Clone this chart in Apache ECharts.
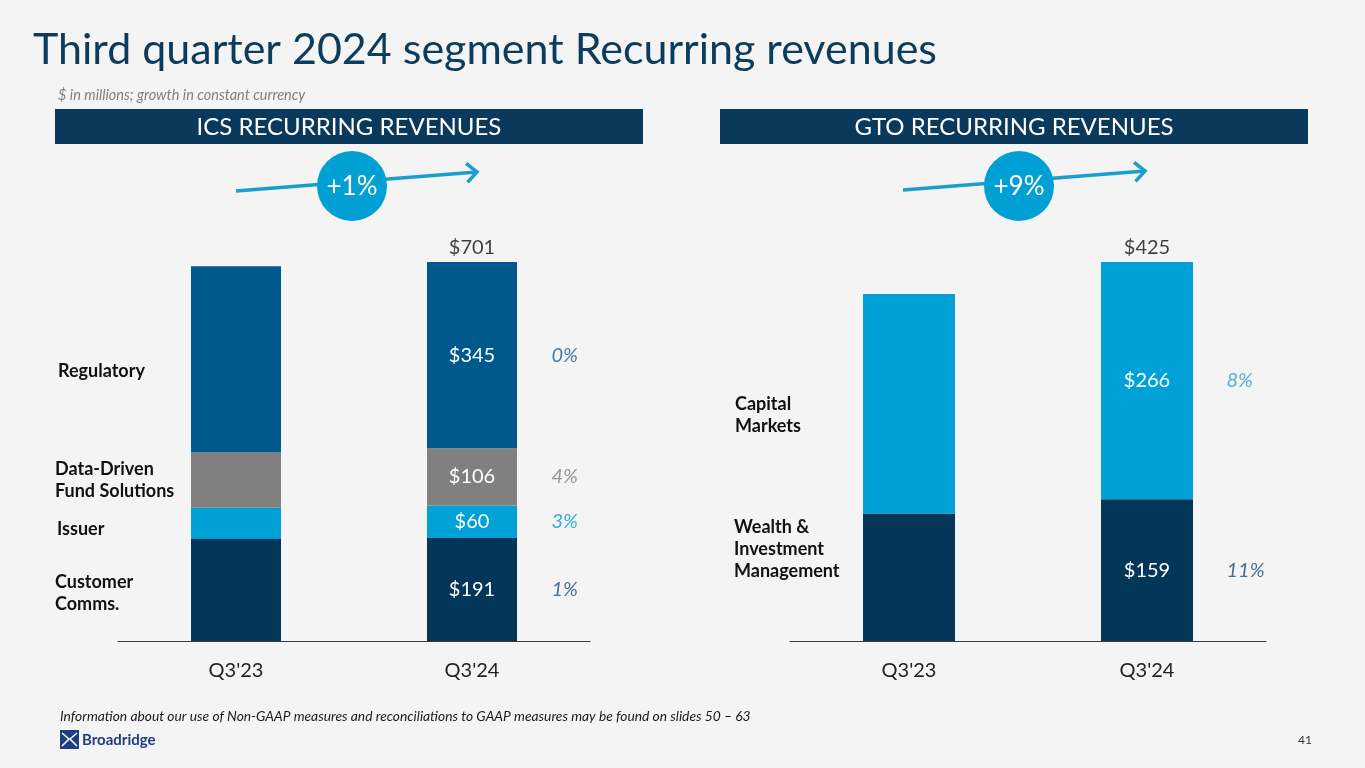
<!DOCTYPE html>
<html>
<head>
<meta charset="utf-8">
<script src="https://cdn.jsdelivr.net/npm/echarts@6.0.0/dist/echarts.min.js"></script>
<style>
  html, body { margin: 0; padding: 0; background: #f4f4f4; }
  #main { width: 1365px; height: 768px; }
</style>
</head>
<body>
<div id="main"></div>
<script>
// data ($ in millions)
const quarters = ["Q3'23", "Q3'24"];

const icsNames = ['Customer Comms.', 'Issuer', 'Data-Driven Fund Solutions', 'Regulatory'];
const icsCustomerComms = [189, 191];
const icsIssuer = [58, 60];
const icsDataDriven = [102, 106];
const icsRegulatory = [345, 345];
const icsGrowth = ['1%', '3%', '4%', '0%'];
const icsTotals = [694, 701];
const icsTotalGrowth = '+1%';

const gtoNames = ['Wealth & Investment Management', 'Capital Markets'];
const gtoWealth = [143, 159];
const gtoCapital = [246, 266];
const gtoGrowth = ['11%', '8%'];
const gtoTotals = [389, 425];
const gtoTotalGrowth = '+9%';

const FONT = 'Lato, "Open Sans", sans-serif';
const NAVY = '#033659';

var chart = echarts.init(document.getElementById('main'));

const icsStacks = [icsCustomerComms, icsIssuer, icsDataDriven, icsRegulatory];
const gtoStacks = [gtoWealth, gtoCapital];

function stackMax(stacks) {
  let m = 0;
  for (let i = 0; i < stacks[0].length; i++) {
    m = Math.max(m, stacks.reduce((a, s) => a + s[i], 0));
  }
  return m;
}

// middle of every segment for one column
function segMids(stacks, idx) {
  let acc = 0;
  return stacks.map(s => {
    const mid = acc + s[idx] / 2;
    acc += s[idx];
    return mid;
  });
}

function barSeries(name, data, color, axis, width) {
  return {
    type: 'bar',
    name: name,
    stack: 'st' + axis,
    xAxisIndex: axis,
    yAxisIndex: axis,
    barWidth: width,
    data: data,
    itemStyle: { color: color },
    label: {
      show: true,
      position: 'inside',
      color: '#fff',
      fontFamily: FONT,
      fontSize: 20,
      formatter: p => p.dataIndex === quarters.length - 1 ? '$' + p.value : ''
    },
    emphasis: { disabled: true },
    silent: true
  };
}

function growthSeries(stacks, growth, colors, axis) {
  const last = quarters.length - 1;
  const mids = segMids(stacks, last);
  return {
    type: 'scatter',
    xAxisIndex: axis,
    yAxisIndex: axis,
    symbolSize: 1,
    itemStyle: { color: 'transparent' },
    silent: true,
    data: mids.map((m, i) => ({
      value: [quarters[last], m],
      label: { formatter: growth[i], color: colors[i] }
    })),
    label: {
      show: true,
      position: 'right',
      distance: 79,
      fontFamily: FONT,
      fontStyle: 'italic',
      fontSize: 20
    }
  };
}

function totalSeries(stacks, totals, axis) {
  const last = quarters.length - 1;
  return {
    type: 'scatter',
    xAxisIndex: axis,
    yAxisIndex: axis,
    symbolSize: 1,
    itemStyle: { color: 'transparent' },
    silent: true,
    data: [[quarters[last], stackMax(stacks)]],
    label: {
      show: true,
      position: 'top',
      distance: 4,
      color: '#111',
      fontFamily: FONT,
      fontSize: 20,
      formatter: '$' + totals[last]
    }
  };
}

function arrow(x1, y1, x2, y2) {
  const ang = Math.atan2(y2 - y1, x2 - x1);
  const len = 14, spread = 0.75;
  return [
    { type: 'line', shape: { x1: x1, y1: y1, x2: x2, y2: y2 },
      style: { stroke: '#1C9DD0', lineWidth: 3.5 } },
    { type: 'polyline',
      shape: { points: [
        [x2 - len * Math.cos(ang - spread), y2 - len * Math.sin(ang - spread)],
        [x2, y2],
        [x2 - len * Math.cos(ang + spread), y2 - len * Math.sin(ang + spread)]
      ] },
      style: { stroke: '#1C9DD0', lineWidth: 3.5, fill: null } }
  ];
}

function header(x, text) {
  return [
    { type: 'rect', shape: { x: x, y: 109, width: 588, height: 35 }, style: { fill: '#0A395C' } },
    { type: 'text', x: x + 294, y: 127,
      style: { text: text, fill: '#fff', font: '24px ' + FONT, textAlign: 'center', textVerticalAlign: 'middle' } }
  ];
}

function badge(cx, text) {
  return [
    { type: 'circle', shape: { cx: cx, cy: 186, r: 35 }, style: { fill: '#00A0D4' }, z: 10 },
    { type: 'text', x: cx, y: 187, z: 11,
      style: { text: text, fill: '#fff', font: '26px ' + FONT, textAlign: 'center', textVerticalAlign: 'middle' } }
  ];
}

function nameLabel(x, y, text) {
  return { type: 'text', x: x, y: y,
    style: { text: text, fill: '#111', font: 'bold 18px ' + FONT, lineHeight: 22, textVerticalAlign: 'top' } };
}

option = {
  backgroundColor: '#f4f4f4',
  animation: false,
  grid: [
    { left: 118, right: 775, top: 262, bottom: 127, outerBoundsMode: 'none' },
    { left: 790, right: 99, top: 262, bottom: 127, outerBoundsMode: 'none' }
  ],
  xAxis: [0, 1].map(i => ({
    type: 'category',
    gridIndex: i,
    data: quarters,
    axisLine: { lineStyle: { color: '#3a3a3a', width: 1.2 } },
    axisTick: { show: false },
    axisLabel: { color: '#222', fontFamily: FONT, fontSize: 20, margin: 20 }
  })),
  yAxis: [
    { type: 'value', gridIndex: 0, min: 0, max: stackMax(icsStacks), show: false, splitLine: { show: false } },
    { type: 'value', gridIndex: 1, min: 0, max: stackMax(gtoStacks), show: false, splitLine: { show: false } }
  ],
  series: [
    barSeries(icsNames[0], icsCustomerComms, NAVY, 0, 90),
    barSeries(icsNames[1], icsIssuer, '#00A1D6', 0, 90),
    barSeries(icsNames[2], icsDataDriven, '#808080', 0, 90),
    barSeries(icsNames[3], icsRegulatory, '#00598D', 0, 90),
    growthSeries(icsStacks, icsGrowth, ['#1F4E79', '#00A0D2', '#7F7F7F', '#1D5C8C'], 0),
    totalSeries(icsStacks, icsTotals, 0),
    barSeries(gtoNames[0], gtoWealth, NAVY, 1, 92),
    barSeries(gtoNames[1], gtoCapital, '#00A1D6', 1, 92),
    growthSeries(gtoStacks, gtoGrowth, ['#1F4E79', '#2E9ECF'], 1),
    totalSeries(gtoStacks, gtoTotals, 1)
  ],
  graphic: [
    { type: 'text', x: 33, y: 50,
      style: { text: 'Third quarter 2024 segment Recurring revenues', fill: '#0B3C5D',
        font: '43px ' + FONT, textVerticalAlign: 'middle' } },
    { type: 'text', x: 58, y: 95,
      style: { text: '$ in millions; growth in constant currency', fill: '#7f7f7f',
        font: 'italic 14.5px ' + FONT, textVerticalAlign: 'middle' } },
    ...header(55, 'ICS RECURRING REVENUES'),
    ...header(720, 'GTO RECURRING REVENUES'),
    ...arrow(236, 191, 477, 172),
    ...arrow(903, 190, 1145, 171),
    ...badge(352, icsTotalGrowth),
    ...badge(1019, gtoTotalGrowth),
    nameLabel(58, 360, icsNames[3]),
    nameLabel(55, 458, 'Data-Driven\nFund Solutions'),
    nameLabel(57, 518, icsNames[1]),
    nameLabel(55, 571, 'Customer\nComms.'),
    nameLabel(735, 393, 'Capital\nMarkets'),
    nameLabel(734, 516, 'Wealth &\nInvestment\nManagement'),
    { type: 'text', x: 60, y: 717,
      style: { text: 'Information about our use of Non-GAAP measures and reconciliations to GAAP measures may be found on slides 50 \u2013 63',
        fill: '#1a1a1a', font: 'italic 13.8px ' + FONT, textVerticalAlign: 'middle' } },
    // logo
    { type: 'rect', shape: { x: 60, y: 730, width: 19, height: 19 }, style: { fill: '#1E3F7C' } },
    { type: 'polyline', shape: { points: [[62, 733], [69, 739], [62, 746]] }, style: { stroke: '#fff', lineWidth: 1.5, fill: null } },
    { type: 'polyline', shape: { points: [[77, 733], [70, 739], [77, 746]] }, style: { stroke: '#fff', lineWidth: 1.5, fill: null } },
    { type: 'text', x: 82, y: 740,
      style: { text: 'Broadridge', fill: '#1E3F7C', font: 'bold 15px ' + FONT, textVerticalAlign: 'middle' } },
    { type: 'text', x: 1298, y: 740,
      style: { text: '41', fill: '#333', font: '12px ' + FONT, textVerticalAlign: 'middle' } }
  ]
};

chart.setOption(option);
</script>
</body>
</html>
